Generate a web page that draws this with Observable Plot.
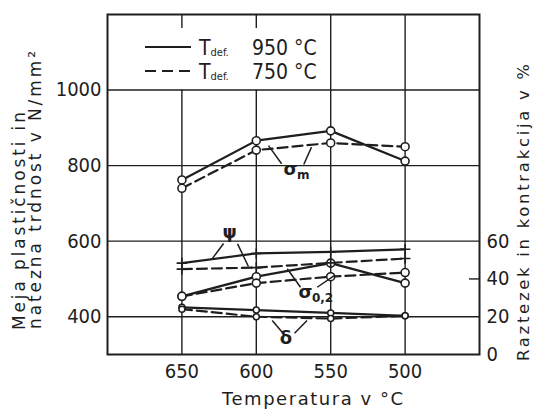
<!DOCTYPE html>
<html><head><meta charset="utf-8">
<script src="https://cdn.jsdelivr.net/npm/d3@7"></script>
<script src="https://cdn.jsdelivr.net/npm/@observablehq/plot@0.6"></script>
<style>body{margin:0;background:#fff}</style>
</head><body><div id="chart"></div>
<script>
// ---- data ----
const temps = [650, 600, 550, 500];                 // Temperatura v °C
const sigmaM950 = [762, 866, 892, 812];             // σm, T_def 950 °C (N/mm²)
const sigmaM750 = [740, 841, 860, 850];             // σm, T_def 750 °C
const sigma02_950 = [454, 506, 542, 489];           // σ0,2, 950 °C
const sigma02_750 = [454, 489, 506, 517];           // σ0,2, 750 °C
const psi950 = [48.4, 53.5, 54.3, 55.7];            // ψ (%) 950 °C
const psi750 = [45.2, 46.0, 48.5, 50.8];            // ψ (%) 750 °C
const delta950 = [25, 23.5, 22, 20.5];              // δ (%) 950 °C
const delta750 = [24, 20, 19, 20.5];                // δ (%) 750 °C
const xTicks = [650, 600, 550, 500];
const leftTicks = [400, 600, 800, 1000];
const rightTicks = [0, 20, 40, 60];

// annotation labels (data coordinates)
const labelGlyphs = [
  {g: "σ", sub: "m", t: 577, v: 790},
  {g: "ψ", sub: "", t: 618, v: 623},
  {g: "σ", sub: "0,2", t: 567, v: 464},
  {g: "δ", sub: "", t: 580, v: 342}
];
const leaders = [
  {t1: 591.8, v1: 853, t2: 583, v2: 805},
  {t1: 562.9, v1: 849, t2: 568.1, v2: 803},
  {t1: 622, v1: 594, t2: 630.1, v2: 551},
  {t1: 612.6, v1: 593, t2: 605.3, v2: 533},
  {t1: 579.2, v1: 527, t2: 570.3, v2: 478},
  {t1: 559.1, v1: 478, t2: 547.6, v2: 509},
  {t1: 589.3, v1: 390, t2: 582, v2: 356},
  {t1: 565.9, v1: 390, t2: 574.3, v2: 356}
];

// right axis (%) shares the left scale: 0 % ↔ 300, 60 % ↔ 600 N/mm²
const pct = p => 300 + 5 * p;

const series = [
  {key: "sm950", tdef: 950, vals: sigmaM950, unit: "N", kind: "sigma"},
  {key: "sm750", tdef: 750, vals: sigmaM750, unit: "N", kind: "sigma"},
  {key: "s02950", tdef: 950, vals: sigma02_950, unit: "N", kind: "sigma"},
  {key: "s02750", tdef: 750, vals: sigma02_750, unit: "N", kind: "sigma"},
  {key: "psi950", tdef: 950, vals: psi950, unit: "%", kind: "psi"},
  {key: "psi750", tdef: 750, vals: psi750, unit: "%", kind: "psi"},
  {key: "d950", tdef: 950, vals: delta950, unit: "%", kind: "delta"},
  {key: "d750", tdef: 750, vals: delta750, unit: "%", kind: "delta"}
];
const rows = series.flatMap(s => temps.map((t, i) => ({
  key: s.key, tdef: s.tdef, kind: s.kind, temp: t,
  y: s.unit === "%" ? pct(s.vals[i]) : s.vals[i]
})));
const solid = rows.filter(d => d.tdef === 950);
const dashed = rows.filter(d => d.tdef === 750);

const ink = "#1e1e1e";
const numFont = "'Liberation Sans Narrow','DejaVu Sans Condensed','Roboto Condensed','Liberation Sans',sans-serif";
const greek = "'DejaVu Sans',sans-serif";

const plot = Plot.plot({
  width: 535, height: 409,
  marginLeft: 107, marginRight: 56, marginTop: 14, marginBottom: 55,
  style: {fontFamily: numFont, fontSize: "20px", color: ink, background: "#fff"},
  x: {domain: [700, 450]},
  y: {domain: [300, 1200]},
  marks: [
    Plot.ruleY(leftTicks, {stroke: ink, strokeWidth: 1.4}),
    Plot.ruleX([550, 500], {stroke: ink, strokeWidth: 1.4}),
    Plot.ruleX([650, 600], {y1: 300, y2: 1000, stroke: ink, strokeWidth: 1.4}),
    Plot.ruleX([650, 600], {y1: 1200, y2: 1163, stroke: ink, strokeWidth: 1.4}),
    Plot.ruleY([pct(40)], {x1: 450, x2: 456.7, stroke: ink, strokeWidth: 1.4}),
    Plot.frame({stroke: ink, strokeWidth: 2}),
    Plot.line(solid, {x: "temp", y: "y", z: "key", stroke: ink, strokeWidth: 2.2}),
    Plot.line(dashed, {x: "temp", y: "y", z: "key", stroke: ink, strokeWidth: 2.2, strokeDasharray: "10,5"}),
    Plot.dot(rows.filter(d => d.kind === "sigma"), {x: "temp", y: "y", r: 4, fill: "#fff", stroke: ink, strokeWidth: 1.6}),
    Plot.dot(rows.filter(d => d.kind === "delta"), {x: "temp", y: "y", r: 3, fill: "#fff", stroke: ink, strokeWidth: 1.5}),
    Plot.dot(rows.filter(d => d.kind === "psi"), {x: "temp", y: "y", r: 3.5, symbol: "plus", stroke: ink, strokeWidth: 1.6}),
    Plot.link(leaders, {x1: "t1", y1: "v1", x2: "t2", y2: "v2", stroke: ink, strokeWidth: 1.5}),
    Plot.text(labelGlyphs, {x: "t", y: "v", text: "g", fontSize: 18, fontWeight: "bold", fill: ink, fontFamily: greek}),
    Plot.text(labelGlyphs.filter(d => d.sub), {x: "t", y: "v", text: "sub", fontSize: 12, fontWeight: "bold", fill: ink,
      fontFamily: greek, textAnchor: "start", dx: 6.5, dy: 6}),
    Plot.axisX({ticks: xTicks, tickSize: 0, tickPadding: 9, label: null, tickFormat: d => String(d)}),
    Plot.axisY({ticks: leftTicks, tickSize: 0, tickPadding: 6, label: null, anchor: "left", tickFormat: d => String(d)}),
    Plot.axisY({ticks: rightTicks.map(pct), tickSize: 0, tickPadding: 7, label: null, anchor: "right", tickFormat: d => String((d - 300) / 5)})
  ]
});

document.getElementById("chart").appendChild(plot);
const svg = d3.select(plot);

// axis titles
const tf = "'DejaVu Sans',sans-serif";
function title(x, y, rot, len, size, str) {
  svg.append("text")
    .attr("transform", `translate(${x},${y})` + (rot ? " rotate(-90)" : ""))
    .attr("text-anchor", "start")
    .attr("font-family", tf).attr("font-size", size).attr("fill", ink)
    .attr("textLength", len).attr("lengthAdjust", "spacing")
    .text(str);
}
title(25, 330, true, 218, 17, "Meja plastičnosti in");
title(41, 329, true, 278, 17, "natezna trdnost v N/mm²");
title(529, 361, true, 297, 16.5, "Raztezek in kontrakcija v %");
title(222, 405, false, 181, 18, "Temperatura v °C");

// legend
const leg = svg.append("g").attr("fill", ink).attr("font-family", numFont).attr("text-anchor", "start");
[{y: 47, dash: null, label: "950 °C"}, {y: 71, dash: "11,6", label: "750 °C"}].forEach(r => {
  leg.append("line").attr("x1", 145).attr("x2", 191).attr("y1", r.y).attr("y2", r.y)
    .attr("stroke", ink).attr("stroke-width", 2.2).attr("stroke-dasharray", r.dash);
  const t = leg.append("text").attr("x", 199).attr("y", r.y + 8).attr("font-size", 21);
  t.append("tspan").text("T");
  t.append("tspan").attr("font-size", 11).attr("dy", 1).text("def.");
  leg.append("text").attr("x", 252).attr("y", r.y + 8).attr("font-size", 21).text(r.label);
});
</script>
</body></html>
